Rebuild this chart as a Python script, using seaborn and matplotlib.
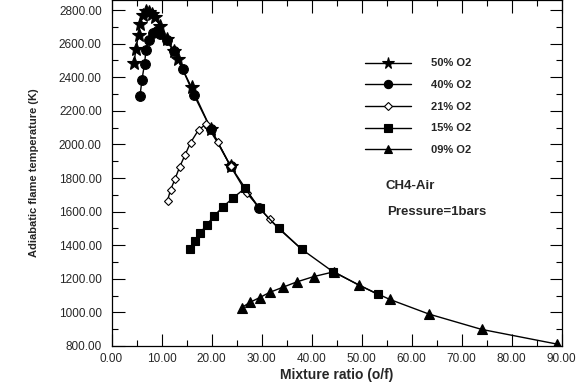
import pandas as pd
import seaborn as sns
import matplotlib
matplotlib.use("Agg")
import matplotlib.pyplot as plt
from matplotlib.ticker import MultipleLocator, FormatStrFormatter

# values
o2_50_x = [4.5, 4.9, 5.4, 5.7, 6.2, 6.9, 7.4, 8.0, 8.6, 9.7, 11.0, 12.5, 13.2, 16.0, 19.9, 23.8]
o2_50_t = [2486, 2570, 2654, 2720, 2770, 2794, 2790, 2776, 2760, 2706, 2626, 2556, 2510, 2340, 2090, 1871]

o2_40_x = [5.7, 6.1, 6.6, 6.9, 7.4, 8.2, 9.0, 9.7, 11.0, 12.4, 14.2, 16.5, 19.9, 23.8, 29.4]
o2_40_t = [2290, 2386, 2480, 2560, 2624, 2666, 2676, 2660, 2620, 2556, 2450, 2294, 2090, 1871, 1622]

o2_21_x = [11.2, 11.8, 12.7, 13.6, 14.7, 15.8, 17.4, 18.9, 21.2, 23.8, 27.0, 31.6, 38.0]
o2_21_t = [1665, 1729, 1794, 1864, 1937, 2010, 2086, 2121, 2012, 1871, 1712, 1554, 1377]

o2_15_x = [15.6, 16.7, 17.7, 19.0, 20.5, 22.2, 24.2, 26.7, 29.6, 33.4, 38.0, 44.3, 53.2]
o2_15_t = [1376, 1425, 1472, 1520, 1574, 1626, 1679, 1739, 1620, 1500, 1377, 1242, 1108]

o2_09_x = [26.0, 27.7, 29.6, 31.7, 34.2, 37.0, 40.4, 44.5, 49.4, 55.6, 63.5, 74.0, 89.0]
o2_09_t = [1028, 1060, 1088, 1120, 1149, 1181, 1213, 1242, 1163, 1078, 990, 899, 812]

series = [
    ("50% O2", o2_50_x, o2_50_t, "*", 10, "black"),
    ("40% O2", o2_40_x, o2_40_t, "o", 7, "black"),
    ("21% O2", o2_21_x, o2_21_t, "D", 4.5, "white"),
    ("15% O2", o2_15_x, o2_15_t, "s", 6, "black"),
    ("09% O2", o2_09_x, o2_09_t, "^", 7, "black"),
]

sns.set_style("ticks")
plt.rcParams["font.family"] = ["Liberation Sans", "DejaVu Sans"]

fig = plt.figure(figsize=(5.86, 3.85), dpi=100)
ax = fig.add_axes([111.5 / 586, 1 - 346 / 385, 450 / 586, 346 / 385])

for name, xs, ts, mk, ms, face in series:
    df = pd.DataFrame({"x": xs, "t": ts})
    sns.lineplot(data=df, x="x", y="t", sort=False, ax=ax, color="black",
                 linewidth=1.0, marker=mk, markersize=ms,
                 markerfacecolor=face, markeredgecolor="black",
                 markeredgewidth=0.8, label=name)

ax.set_xlim(0, 90)
ax.set_ylim(800, 2860)
ax.xaxis.set_major_locator(MultipleLocator(10))
ax.xaxis.set_minor_locator(MultipleLocator(5))
ax.yaxis.set_major_locator(MultipleLocator(200))
ax.yaxis.set_minor_locator(MultipleLocator(100))
ax.xaxis.set_major_formatter(FormatStrFormatter("%.2f"))
ax.yaxis.set_major_formatter(FormatStrFormatter("%.2f"))
ax.tick_params(which="both", direction="in", top=True, right=True,
               labelsize=8.5, width=0.8, color="black")
ax.tick_params(which="major", length=9)
ax.tick_params(which="minor", length=4.5)
ax.tick_params(axis="y", pad=7)
ax.tick_params(axis="x", pad=5)
for sp in ax.spines.values():
    sp.set_linewidth(0.9)
    sp.set_color("black")

ax.set_xlabel("Mixture ratio (o/f)", fontsize=10, fontweight="bold", labelpad=2)
ax.set_ylabel("Adiabatic flame temperature (K)", fontsize=8, fontweight="bold", labelpad=14)

# legend markers a bit smaller than on the curves, as in the original
leg = ax.legend(loc="upper left", bbox_to_anchor=(0.54, 0.86), frameon=False,
                handlelength=4.2, handletextpad=1.8, labelspacing=1.05,
                markerscale=0.85, prop={"weight": "bold", "size": 8})

ax.text(0.61, 0.455, "CH4-Air", transform=ax.transAxes, fontsize=9.5, fontweight="bold")
ax.text(0.612, 0.38, "Pressure=1bars", transform=ax.transAxes, fontsize=9.5, fontweight="bold")

fig.savefig("out.png", dpi=100)
